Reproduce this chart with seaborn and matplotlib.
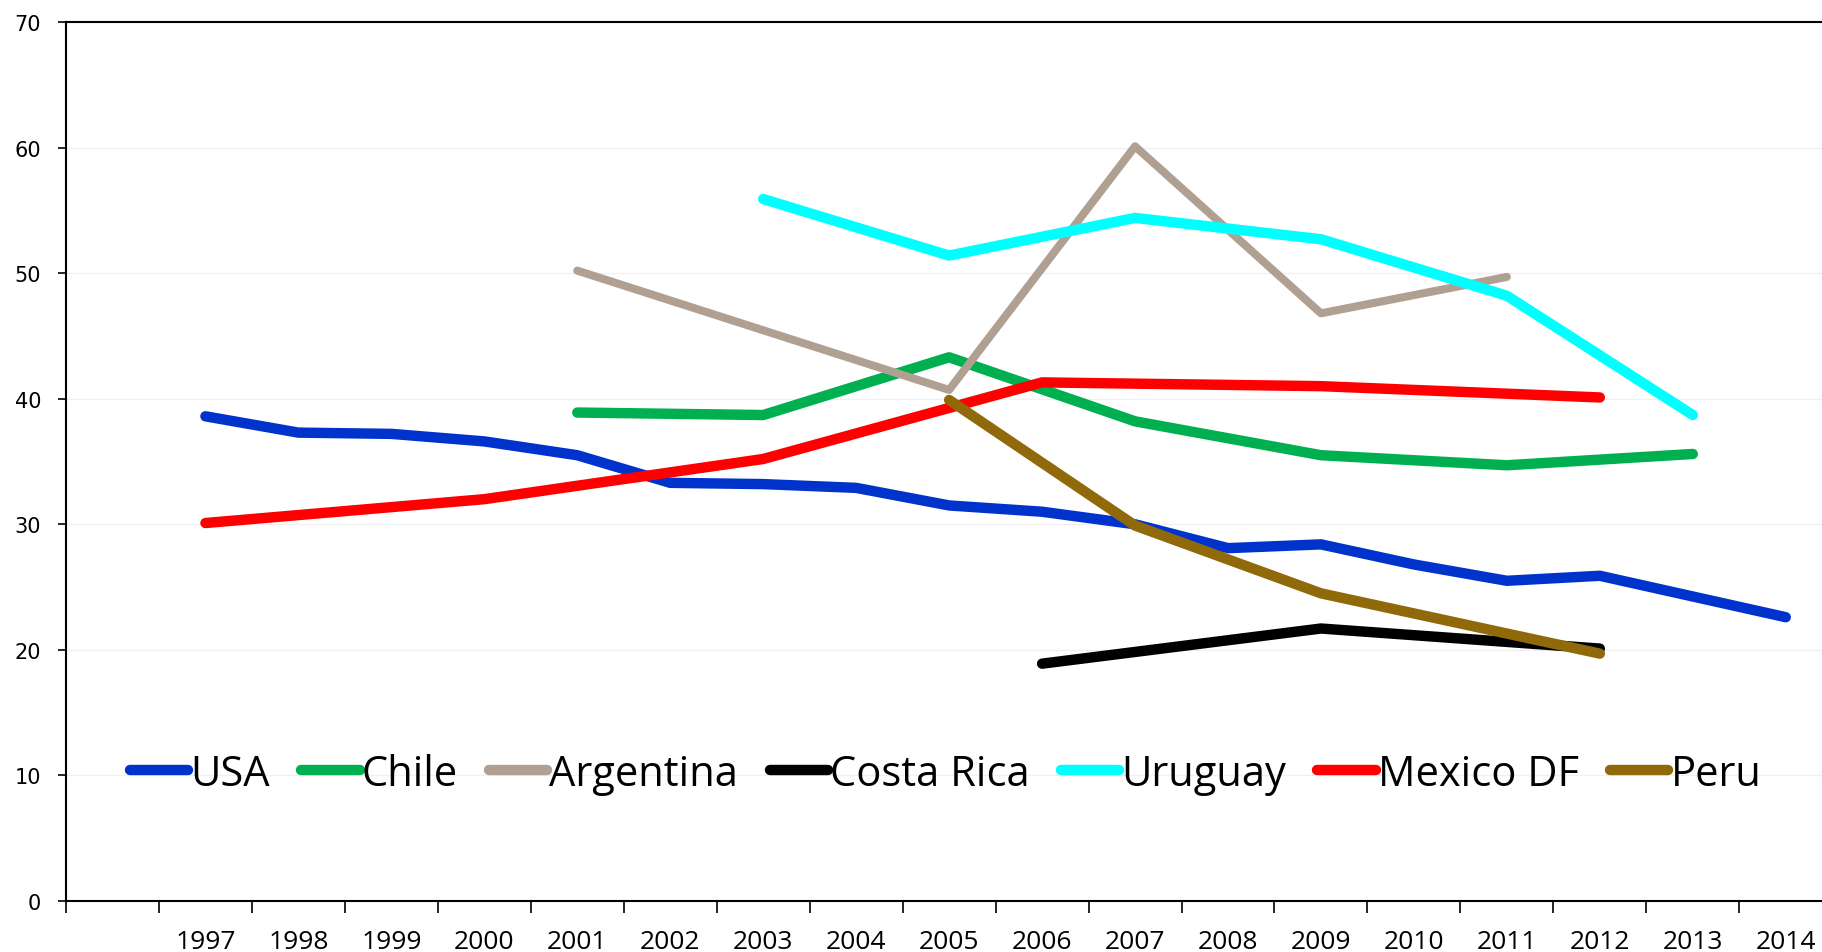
import numpy as np
import pandas as pd
import matplotlib
matplotlib.use("Agg")
import matplotlib.pyplot as plt
from matplotlib.ticker import FixedLocator
import seaborn as sns

# categories: one blank slot before the first year, as in the original sheet
years = list(range(1997, 2015))
categories = [""] + [str(y) for y in years]

# values per year (None = no survey that year)
usa = [38.6, 37.3, 37.2, 36.6, 35.5, 33.3, 33.2, 32.9, 31.5, 31.0,
       30.0, 28.1, 28.4, 26.8, 25.5, 25.9, None, 22.6]
chile = [None, None, None, None, 38.9, None, 38.7, None, 43.3, None,
         38.2, None, 35.5, None, 34.7, None, 35.6, None]
argentina = [None, None, None, None, 50.2, None, None, None, 40.7, None,
             60.1, None, 46.8, None, 49.7, None, None, None]
costa_rica = [None, None, None, None, None, None, None, None, None, 18.9,
              None, None, 21.7, None, None, 20.1, None, None]
uruguay = [None, None, None, None, None, None, 55.9, None, 51.4, None,
           54.4, None, 52.7, None, 48.2, None, 38.7, None]
mexico_df = [30.1, None, None, 32.0, None, None, 35.2, None, None, 41.3,
             None, None, 41.0, None, None, 40.1, None, None]
peru = [None, None, None, None, None, None, None, None, 39.9, None,
        29.9, None, 24.5, None, None, 19.7, None, None]

series = {
    "USA": usa,
    "Chile": chile,
    "Argentina": argentina,
    "Costa Rica": costa_rica,
    "Uruguay": uruguay,
    "Mexico DF": mexico_df,
    "Peru": peru,
}
colors = {
    "USA": "#0033CC",
    "Chile": "#00B050",
    "Argentina": "#B0A092",
    "Costa Rica": "#000000",
    "Uruguay": "#00FFFF",
    "Mexico DF": "#FF0000",
    "Peru": "#906A0A",
}
widths = {"Argentina": 5.8}

sns.set_theme(style="white")
plt.rcParams["font.family"] = ["Open Sans", "DejaVu Sans"]
plt.rcParams["text.color"] = "black"
plt.rcParams["xtick.color"] = "black"
plt.rcParams["ytick.color"] = "black"

fig = plt.figure(figsize=(18.22, 9.53), dpi=100)
ax = fig.add_axes([66 / 1822, 1 - 902 / 953, 19 * 92.96 / 1822, 879 / 953])

for name, vals in series.items():
    df = pd.DataFrame({"x": np.arange(1, len(years) + 1), "y": vals}).dropna()
    sns.lineplot(data=df, x="x", y="y", ax=ax, color=colors[name],
                 lw=widths.get(name, 7.5), label=name, sort=False,
                 solid_capstyle="round", solid_joinstyle="round")

ax.set_xlim(-0.5, 18.5)
ax.set_ylim(0, 70)
ax.set_xlabel("")
ax.set_ylabel("")

ax.set_xticks(np.arange(len(categories)))
ax.set_xticklabels(categories, fontsize=19)
ax.xaxis.set_minor_locator(FixedLocator(np.arange(-0.5, 19, 1)))
ax.tick_params(axis="x", which="major", length=0, pad=20)
ax.tick_params(axis="x", which="minor", length=8.5, width=1.2, color="black",
               direction="out", bottom=True)

ax.set_yticks(range(0, 71, 10))
for lab in ax.get_yticklabels():
    lab.set_fontfamily("DejaVu Sans")
    lab.set_fontsize(15)
ax.tick_params(axis="y", length=6, width=1.2, color="black", direction="out",
               left=True, pad=12)

ax.grid(axis="y", color="#f0f0f0", lw=1)
ax.set_axisbelow(True)
for side in ["left", "bottom", "top"]:
    ax.spines[side].set_color("black")
    ax.spines[side].set_linewidth(1.5)
ax.spines["right"].set_visible(False)

leg = ax.legend(loc="center", bbox_to_anchor=(0.498, 0.145), ncol=7,
                frameon=False, fontsize=30, handlelength=1.4,
                handletextpad=0.05, columnspacing=0.75)
for h in leg.get_lines():
    h.set_linewidth(7.5)
    h.set_solid_capstyle("round")
for t in leg.get_texts():
    t.set_color("black")

fig.savefig("out.png", dpi=100)
